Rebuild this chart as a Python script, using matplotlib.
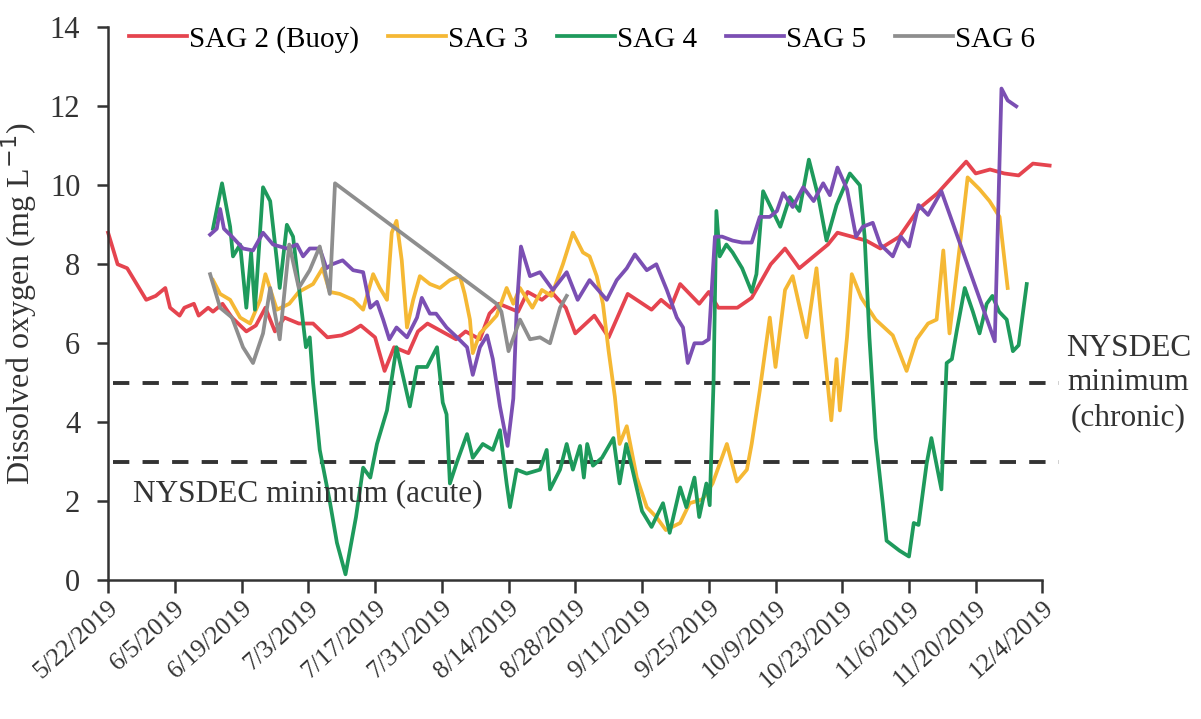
import matplotlib
matplotlib.use("Agg")
import matplotlib.pyplot as plt
import matplotlib.dates as mdates
import numpy as np
import pandas as pd

plt.rcParams['font.family'] = ['Liberation Serif', 'DejaVu Serif']

start = pd.Timestamp("2019-05-22")

# days after 5/22/2019 and dissolved oxygen (mg/L)
sag2_days = [0, 1, 2, 4, 6, 8, 10, 12, 13, 15, 16, 18, 19, 21, 22, 24, 26, 29, 31, 33,
             35, 37, 40, 43, 46, 49, 51, 53, 56, 58, 60, 63, 65, 67, 70, 73, 75, 78, 80, 82,
             86, 88, 91, 93, 96, 98, 102, 105, 109, 114, 116, 118, 120, 124, 126, 128, 132, 135, 139, 142,
             145, 148, 151, 153, 156, 159, 162, 166, 170, 174, 177, 180, 182, 185, 188, 191, 194, 197.5]
sag2_do = [8.8, 8.4, 8.0, 7.9, 7.5, 7.1, 7.2, 7.4, 6.9, 6.7, 6.9, 7.0, 6.7, 6.9, 6.8, 7.0, 6.65, 6.3, 6.45, 6.9,
           6.3, 6.65, 6.5, 6.5, 6.15, 6.2, 6.3, 6.45, 6.15, 5.3, 5.9, 5.75, 6.3, 6.5, 6.3, 6.1, 6.3, 6.1, 6.75, 7.0,
           6.8, 7.3, 7.1, 7.3, 6.9, 6.25, 6.7, 6.15, 7.25, 6.85, 7.1, 6.9, 7.5, 7.0, 7.3, 6.9, 6.9, 7.15, 8.0, 8.4,
           7.9, 8.2, 8.5, 8.8, 8.7, 8.6, 8.4, 8.7, 9.4, 9.8, 10.2, 10.6, 10.3, 10.4, 10.3, 10.25, 10.55, 10.5]

sag3_days = [22, 23.5, 25.6, 27.7, 29.8, 31.9, 33, 35.4, 38, 40, 43, 45, 46.5, 48.6, 51.4, 53.5, 55.6, 57, 58.5, 59.5,
             60.5, 61.6, 62.7, 64, 65.4, 67.5, 69.6, 71.7, 73.8, 74.8, 75.9, 76.5, 78, 80, 81.5, 83.6, 85, 86.4, 89, 91,
             93, 95.4, 97.5, 99.6, 101, 102.5, 103.8, 105, 106.3, 107.3, 108.8, 110.9, 113, 115, 117, 120, 122, 124.7, 126.8, 128.3,
             129.8, 131.9, 134, 135, 136.7, 138.8, 140, 142, 143.6, 146.5, 148.6, 150.3, 151.7, 152.8, 153.5, 155, 156, 158, 161, 164.6,
             167.5, 169.6, 172, 173.8, 175.2, 176.5, 178.6, 180.3, 182.8, 184.9, 187, 188.7]
sag3_do = [7.6, 7.25, 7.1, 6.65, 6.5, 7.1, 7.75, 6.85, 7.0, 7.3, 7.5, 7.9, 7.3, 7.25, 7.1, 6.85, 7.75, 7.4, 7.1, 8.8,
           9.1, 8.1, 6.4, 7.1, 7.7, 7.5, 7.4, 7.6, 7.7, 7.25, 6.6, 5.75, 6.25, 6.5, 6.7, 7.4, 7.0, 7.4, 6.9, 7.35,
           7.2, 8.0, 8.8, 8.3, 8.2, 7.7, 7.0, 5.8, 4.65, 3.45, 3.9, 2.6, 1.85, 1.6, 1.27, 1.45, 1.95, 2.05, 2.45, 2.95,
           3.45, 2.5, 2.8, 3.45, 4.8, 6.65, 5.4, 7.35, 7.7, 6.15, 7.9, 5.75, 4.05, 5.6, 4.3, 6.15, 7.75, 7.15, 6.6, 6.2,
           5.3, 6.1, 6.5, 6.6, 8.35, 6.25, 8.4, 10.2, 9.9, 9.6, 9.2, 7.4]

sag4_days = [22, 23.9, 25.6, 26.2, 27.7, 29, 30, 30.8, 32.5, 34, 35.4, 36, 37.5, 38.8, 40.2, 41.5, 42.3, 43, 44.4, 46.5,
             48, 49.8, 52, 53.5, 55, 56.4, 58.5, 60.5, 61.9, 63.3, 64.8, 66.9, 69, 70.2, 71, 71.7, 73.2, 75.3, 76.5, 78.6,
             80.7, 82.2, 83.6, 84.3, 85.7, 87.8, 90.6, 92, 92.7, 94.8, 96.2, 97.5, 99, 99.8, 100.5, 101.7, 103.6, 106, 107.3, 108.7,
             110, 112, 114, 116.4, 117.8, 120, 121.3, 123, 124, 125.5, 126.2, 127, 127.6, 128.3, 129.7, 131, 133, 135, 136, 137.4,
             139.4, 141, 143, 145, 147, 149, 150.7, 152.8, 155.6, 157.7, 158.7, 159.7, 161, 162.5, 163.3, 166, 168, 169, 170, 171.7,
             172.7, 173.5, 174.8, 175.9, 177, 178, 179.7, 181.4, 182.8, 184.3, 185.5, 186.9, 188.5, 189.8, 191, 192.7]
sag4_do = [8.9, 10.05, 8.95, 8.2, 8.5, 6.9, 8.3, 6.85, 9.95, 9.6, 8.1, 7.4, 9.0, 8.7, 7.25, 5.9, 6.15, 5.0, 3.3, 2.0,
           0.95, 0.15, 1.6, 2.85, 2.6, 3.45, 4.3, 5.9, 5.15, 4.4, 5.4, 5.4, 5.9, 4.5, 4.2, 2.45, 3.0, 3.7, 3.1, 3.45,
           3.3, 3.8, 2.45, 1.85, 2.8, 2.7, 2.8, 3.3, 2.3, 2.8, 3.45, 2.8, 3.4, 2.6, 3.45, 2.9, 3.1, 3.6, 2.45, 3.45,
           2.8, 1.75, 1.35, 1.95, 1.2, 2.35, 1.85, 2.6, 1.6, 2.45, 1.9, 5.0, 9.35, 8.2, 8.5, 8.3, 7.9, 7.3, 7.75, 9.85,
           9.35, 8.95, 9.7, 9.35, 10.65, 9.7, 8.6, 9.5, 10.3, 10.0, 8.7, 6.15, 3.6, 1.95, 1.0, 0.75, 0.6, 1.45, 1.4, 2.95,
           3.6, 3.1, 2.3, 5.5, 5.6, 6.3, 7.4, 6.8, 6.25, 7.0, 7.2, 6.8, 6.6, 5.8, 5.95, 7.5]

sag5_days = [21.4, 22.8, 23.5, 24.3, 26, 28.3, 30.4, 32.5, 34.6, 37.5, 39.6, 40.9, 42.3, 44.4, 45.8, 47, 49.2, 51.4, 53.5, 55,
             56.4, 57.7, 59, 60.5, 62.7, 64.8, 65.8, 67.5, 68.8, 71, 73.2, 75.3, 76.5, 78, 79.5, 80.7, 82.2, 83.8, 85, 85.7,
             86.6, 88.5, 90.6, 93.3, 96.2, 98.5, 101, 104.6, 106.7, 108.8, 110.5, 113, 115, 117.2, 119.3, 120.6, 121.6, 123, 124.7, 126,
             127.3, 128.8, 131, 133, 135, 136.7, 138.8, 140.3, 141.6, 143.6, 145.8, 148, 150, 151.4, 153, 155, 156.9, 158.3, 160.4, 162,
             163.3, 164.6, 166.3, 168, 170, 172, 174.8, 186, 187.4, 188.7, 190.5]
sag5_do = [8.75, 8.9, 9.4, 8.9, 8.7, 8.4, 8.35, 8.8, 8.5, 8.4, 8.5, 8.2, 8.4, 8.4, 7.9, 8.0, 8.1, 7.85, 7.8, 6.9,
           7.05, 6.6, 6.1, 6.4, 6.15, 6.65, 7.15, 6.75, 6.75, 6.4, 6.15, 5.9, 5.2, 5.9, 6.2, 5.6, 4.4, 3.4, 4.6, 6.85,
           8.45, 7.7, 7.8, 7.35, 7.8, 7.1, 7.6, 7.1, 7.6, 7.9, 8.25, 7.85, 8.0, 7.35, 6.65, 6.4, 5.5, 6.0, 6.0, 6.1,
           8.7, 8.7, 8.6, 8.55, 8.55, 9.2, 9.2, 9.35, 9.8, 9.45, 9.95, 9.6, 10.05, 9.75, 10.45, 9.9, 8.7, 8.95, 9.05, 8.5,
           8.35, 8.2, 8.7, 8.45, 9.5, 9.25, 9.85, 6.05, 12.45, 12.15, 12.0]

sag6_days = [21.4, 23.5, 26, 28.3, 30.4, 32.5, 34, 36, 38, 40, 42.3, 44.4, 46.5, 47.6, 81.5, 82.5, 84, 86.4, 88.5, 90.6,
             92.7, 94.8, 96.2]
sag6_do = [7.75, 6.9, 6.65, 5.9, 5.5, 6.25, 7.4, 6.1, 8.5, 7.4, 7.85, 8.45, 7.25, 10.05, 7.0, 6.8, 5.8, 6.6, 6.1, 6.15,
           6.0, 6.9, 7.2]

labels = ["SAG 2 (Buoy)", "SAG 3", "SAG 4", "SAG 5", "SAG 6"]
colors = ["#E5444F", "#F5B834", "#1E9A5C", "#7B4FB3", "#8E8E8E"]

acute = 3
chronic = 5

def to_dates(days):
    return start + pd.to_timedelta(np.array(days), unit="D")

fig = plt.figure(figsize=(12.01, 7.19), dpi=100)
ax = fig.add_axes([0.09, 0.193, 0.778, 0.769])

series = [(sag2_days, sag2_do), (sag3_days, sag3_do), (sag4_days, sag4_do),
          (sag5_days, sag5_do), (sag6_days, sag6_do)]
for (d, v), lab, c in zip(series, labels, colors):
    ax.plot(to_dates(d), v, color=c, lw=2.7, label=lab, clip_on=False)

# NYSDEC limits, drawn a little past the axis end
xl0 = mdates.date2num(start)
xl1 = mdates.date2num(start + pd.Timedelta(days=196))
dash_end = mdates.date2num(start + pd.Timedelta(days=199.5))
for yv in (chronic, acute):
    ax.plot([xl0 + 1, dash_end], [yv, yv], color="#333333", lw=2.8,
            dashes=(4.2, 3.4), clip_on=False, zorder=1)

ax.text(xl0 + 5.2, 2.2, "NYSDEC minimum (acute)", fontsize=22.5, color="#333333",
        va="center", ha="left")
ax.text(mdates.date2num(start + pd.Timedelta(days=214)), 5.0,
        "NYSDEC\nminimum\n(chronic)", fontsize=22.5, color="#333333",
        va="center", ha="center", multialignment="center", linespacing=1.25,
        clip_on=False)

ax.set_xlim(xl0, xl1)
ax.set_ylim(0, 14)
ax.set_yticks(range(0, 15, 2))
ticks = [start + pd.Timedelta(days=14 * i) for i in range(15)]
ax.set_xticks([mdates.date2num(t) for t in ticks])
ax.set_xticklabels([f"{t.month}/{t.day}/{t.year}" for t in ticks],
                   rotation=42, ha="right", rotation_mode="anchor")

for s in ("top", "right"):
    ax.spines[s].set_visible(False)
for s in ("left", "bottom"):
    ax.spines[s].set_linewidth(1.8)
    ax.spines[s].set_color("#333333")
ax.tick_params(axis="both", colors="#333333", width=1.8, length=8, direction="out")
ax.tick_params(axis="x", labelsize=18.5, pad=3, length=9)
ax.tick_params(axis="y", labelsize=22, pad=12)
ax.set_ylabel("Dissolved oxygen (mg L$^{-1}$)", fontsize=23, color="#333333", labelpad=8)

ax.legend(loc="center", bbox_to_anchor=(0.507, 0.978), ncol=5, frameon=False,
          fontsize=21, handlelength=2.0, handletextpad=0.05, columnspacing=1.0,
          borderaxespad=0)

fig.savefig("out.png", dpi=100)
